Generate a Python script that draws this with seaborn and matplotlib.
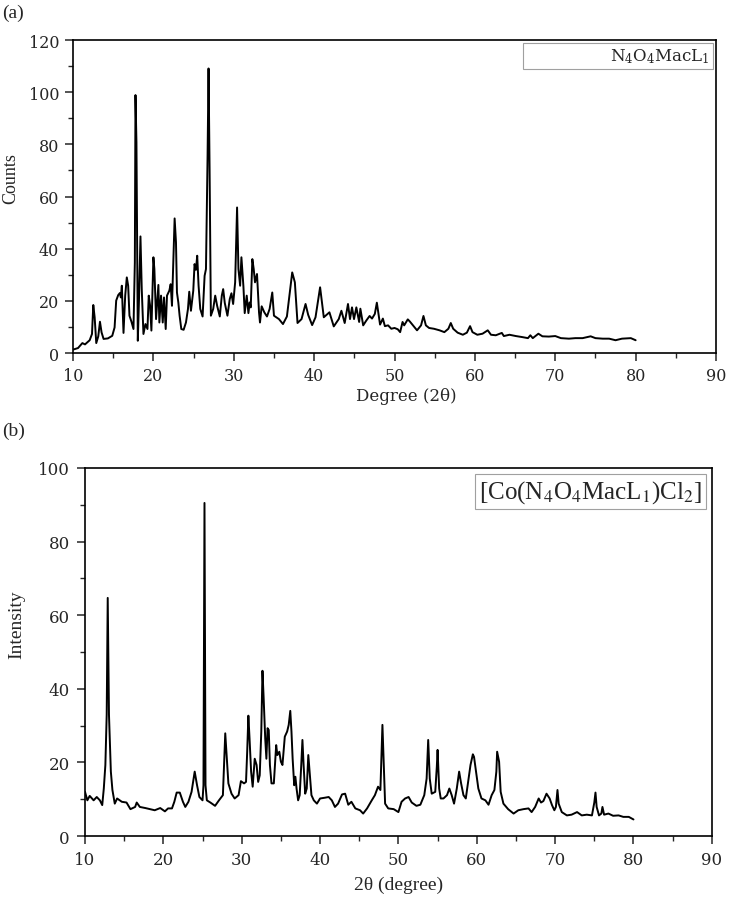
import matplotlib
matplotlib.use("Agg")
import matplotlib.pyplot as plt
import seaborn as sns
import pandas as pd
from matplotlib.ticker import MultipleLocator

# (a) N4O4MacL1 powder pattern
ligand_2theta = [
    10.0, 10.62, 11.16, 11.49, 12.07, 12.36, 12.52, 12.69, 12.89, 13.14, 13.35, 13.55, 13.80,
    14.34, 14.88, 15.17, 15.37, 15.62, 15.83, 15.95, 16.07, 16.28, 16.49, 16.69, 16.86, 17.02,
    17.27, 17.52, 17.69, 17.77, 17.89, 18.06, 18.22, 18.39, 18.55, 18.76, 19.01, 19.26, 19.42,
    19.59, 19.75, 20.0, 20.12, 20.33, 20.62, 20.74, 20.95, 21.16, 21.32, 21.53, 21.69, 21.98,
    22.15, 22.31, 22.48, 22.64, 22.81, 22.93, 23.10, 23.26, 23.47, 23.76, 24.05, 24.30, 24.46,
    24.67, 24.96, 25.12, 25.29, 25.45, 25.62, 25.83, 26.12, 26.37, 26.54, 26.74, 26.86, 26.99,
    27.15, 27.44, 27.69, 27.93, 28.26, 28.51, 28.68, 28.88, 29.21, 29.50, 29.71, 29.92, 30.17,
    30.41, 30.58, 30.79, 30.95, 31.20, 31.36, 31.61, 31.82, 31.98, 32.11, 32.31, 32.48, 32.64,
    32.89, 33.14, 33.26, 33.47, 33.80, 34.13, 34.46, 34.79, 35.00, 35.62, 36.12, 36.61, 37.02,
    37.27, 37.60, 37.93, 38.43, 38.93, 39.26, 39.75, 40.17, 40.74, 41.20, 41.90, 42.44, 43.06,
    43.39, 43.80, 44.21, 44.46, 44.71, 44.96, 45.25, 45.6, 45.75, 46.1, 46.5, 46.9, 47.2, 47.55,
    47.8, 48.0, 48.2, 48.55, 48.8, 49.2, 49.6, 50.0, 50.4, 50.7, 51.0, 51.2, 51.65, 51.9, 52.3,
    52.8, 53.3, 53.6, 53.9, 54.3, 54.9, 55.6, 56.2, 56.7, 57.0, 57.3, 57.85, 58.5, 59.0, 59.4,
    59.7, 60.3, 60.95, 61.6, 62.0, 62.6, 63.35, 63.6, 64.3, 65.1, 65.9, 66.6, 66.9, 67.2, 67.9,
    68.4, 69.2, 70.0, 70.7, 71.7, 72.5, 73.4, 74.4, 75.0, 75.9, 76.7, 77.5, 78.3, 79.4, 80.0,
]
ligand_counts = [
    1.3, 1.9, 3.8, 3.3, 4.9, 7.3, 18.4, 13.7, 3.8, 6.4, 12.0, 7.9, 5.4,
    5.6, 6.6, 9.8, 20.1, 22.2, 23.0, 21.3, 25.8, 7.7, 22.0, 29.0, 25.8, 14.3,
    12.0, 9.2, 34.7, 98.9, 80.7, 4.7, 22.0, 44.7, 24.5, 7.3, 11.1, 9.2, 22.0,
    18.1, 8.6, 36.7, 32.2, 13.0, 26.1, 11.7, 22.0, 11.7, 21.3, 9.2, 22.0, 23.9,
    26.4, 18.1, 34.7, 51.6, 42.4, 23.2, 19.4, 14.3, 9.2, 8.9, 11.7, 16.9, 23.5,
    16.2, 23.9, 34.1, 31.9, 37.3, 25.8, 16.9, 14.0, 29.6, 32.2, 75.6, 109.1, 70.5,
    14.3, 16.9, 22.0, 18.1, 14.0, 22.0, 24.5, 19.2, 14.3, 20.7, 22.9, 18.8, 27.1,
    55.8, 32.2, 25.8, 36.7, 25.5, 15.3, 22.0, 15.3, 19.4, 17.5, 36.0, 32.2, 27.1,
    30.3, 15.6, 11.7, 17.9, 15.6, 14.0, 16.9, 23.2, 14.3, 13.0, 11.1, 14.0, 24.5,
    30.9, 27.1, 11.5, 13.0, 18.8, 14.6, 10.7, 13.7, 25.2, 13.7, 15.6, 10.2, 13.0,
    16.2, 11.5, 18.8, 13.0, 17.5, 13.0, 17.5, 11.9, 17.0, 10.6, 12.5, 14.2, 13.2, 15.0,
    19.3, 15.0, 10.9, 13.2, 10.3, 10.6, 9.3, 9.6, 9.1, 8.0, 11.9, 10.6, 12.9, 12.1, 10.6,
    8.7, 10.6, 14.2, 10.6, 9.6, 9.3, 8.7, 8.0, 9.3, 11.5, 9.3, 7.8, 7.0, 7.8, 10.3,
    8.0, 7.0, 7.4, 8.7, 7.0, 6.8, 7.7, 6.5, 7.0, 6.5, 6.1, 5.7, 6.8, 5.7, 7.4,
    6.4, 6.3, 6.5, 5.7, 5.5, 5.7, 5.7, 6.4, 5.7, 5.5, 5.5, 4.9, 5.5, 5.7, 4.9,
]

# (b) [Co(N4O4MacL1)Cl2] complex
complex_2theta = [
    10.0, 10.3, 10.6, 11.1, 11.5, 11.9, 12.2, 12.4, 12.6, 12.77, 12.9, 13.06, 13.3, 13.5, 13.8,
    14.1, 14.7, 15.3, 15.8, 16.4, 16.6, 17.0, 17.7, 18.3, 18.9, 19.6, 20.2, 20.6, 21.1, 21.4,
    21.7, 22.1, 22.5, 22.8, 23.2, 23.6, 24.0, 24.3, 24.6, 25.0, 25.12, 25.25, 25.38, 25.55,
    26.0, 26.6, 27.1, 27.6, 27.75, 27.9, 28.1, 28.3, 28.7, 29.1, 29.6, 29.9, 30.3, 30.55,
    30.7, 30.85, 31.0, 31.2, 31.4, 31.66, 31.9, 32.1, 32.3, 32.5, 32.65, 32.8, 33.0, 33.15,
    33.3, 33.45, 33.6, 33.8, 34.1, 34.4, 34.55, 34.8, 35.0, 35.2, 35.5, 35.8, 36.0, 36.2,
    36.35, 36.5, 36.7, 36.85, 37.0, 37.2, 37.4, 37.6, 37.75, 37.9, 38.1, 38.3, 38.5, 38.7,
    38.9, 39.2, 39.6, 40.0, 40.6, 41.1, 41.5, 41.9, 42.3, 42.8, 43.2, 43.6, 44.0, 44.5,
    45.1, 45.5, 46.0, 46.6, 47.0, 47.4, 47.7, 47.96, 48.15, 48.3, 48.7, 49.4, 50.0, 50.4,
    50.85, 51.3, 51.7, 52.3, 52.8, 53.3, 53.6, 53.8, 54.0, 54.25, 54.7, 54.9, 55.0, 55.2,
    55.4, 55.75, 56.2, 56.5, 56.8, 57.1, 57.45, 57.75, 58.0, 58.3, 58.6, 58.9, 59.2, 59.5,
    59.65, 59.9, 60.2, 60.6, 61.1, 61.5, 61.9, 62.25, 62.5, 62.6, 62.85, 63.05, 63.4, 64.0,
    64.7, 65.3, 65.96, 66.6, 67.0, 67.45, 67.9, 68.2, 68.5, 68.9, 69.3, 69.6, 69.9, 70.1,
    70.3, 70.45, 70.85, 71.5, 72.1, 72.8, 73.4, 74.04, 74.7, 75.0, 75.15, 75.3, 75.6, 75.9,
    76.04, 76.25, 76.8, 77.4, 78.1, 78.7, 79.4, 80.0,
]
complex_intensity = [
    12.0, 9.7, 10.9, 9.7, 10.6, 9.7, 8.4, 12.9, 19.3, 33.0, 64.7, 33.0, 17.5, 12.5, 8.8,
    10.2, 9.3, 9.1, 7.3, 7.9, 9.1, 7.9, 7.6, 7.3, 7.0, 7.6, 6.7, 7.5, 7.5, 9.3,
    11.8, 11.8, 9.3, 7.9, 9.3, 12.0, 17.5, 13.8, 10.6, 9.7, 13.8, 90.5, 13.8, 9.7,
    9.1, 8.2, 9.7, 11.1, 19.3, 27.9, 21.0, 14.3, 11.5, 10.2, 11.1, 14.9, 14.3, 14.7,
    22.9, 32.7, 26.5, 17.5, 13.4, 21.0, 19.3, 14.7, 16.5, 28.4, 44.9, 37.5, 26.5, 21.0,
    29.3, 28.8, 19.3, 14.3, 14.3, 24.7, 22.0, 22.9, 20.2, 19.3, 27.0, 28.4, 30.2, 34.0,
    28.4, 21.0, 13.8, 16.1, 12.9, 9.7, 11.1, 19.3, 26.1, 19.3, 11.5, 12.9, 22.0, 16.5,
    11.1, 9.7, 8.8, 10.2, 10.4, 10.6, 9.7, 7.9, 8.8, 11.3, 11.5, 8.5, 9.3, 7.5,
    7.0, 6.1, 7.5, 9.7, 11.1, 13.4, 12.5, 30.2, 18.4, 8.8, 7.5, 7.3, 6.5, 9.3,
    10.2, 10.6, 9.1, 8.2, 8.5, 11.1, 15.6, 26.1, 15.6, 11.5, 12.0, 18.8, 23.4, 12.9,
    10.2, 10.2, 11.1, 12.9, 11.1, 8.8, 12.9, 17.5, 14.3, 11.1, 10.2, 14.7, 19.3, 22.2,
    21.5, 17.5, 12.9, 10.2, 9.7, 8.5, 11.1, 12.5, 17.5, 22.9, 20.2, 12.0, 8.8, 7.3,
    6.1, 7.0, 7.3, 7.5, 6.5, 7.9, 10.2, 9.1, 9.5, 11.5, 10.2, 8.4, 7.0, 7.9,
    12.5, 8.8, 6.5, 5.6, 5.8, 6.5, 5.6, 5.8, 5.6, 9.1, 11.8, 7.9, 5.6, 6.1,
    7.9, 5.8, 6.1, 5.5, 5.6, 5.2, 5.2, 4.5,
]

x_ticks = [10, 20, 30, 40, 50, 60, 70, 80, 90]

df_a = pd.DataFrame({"two_theta": ligand_2theta, "counts": ligand_counts})
df_b = pd.DataFrame({"two_theta": complex_2theta, "intensity": complex_intensity})

sns.set_style("ticks")
plt.rcParams["font.family"] = ["Liberation Serif", "DejaVu Serif"]
plt.rcParams["xtick.direction"] = "out"
plt.rcParams["ytick.direction"] = "out"

fig = plt.figure(figsize=(7.34, 9.04), dpi=100)
ax1 = fig.add_axes([0.0995, 0.6084, 0.876, 0.3462])
ax2 = fig.add_axes([0.1158, 0.0741, 0.854, 0.4071])

# ---- panel (a)
sns.lineplot(data=df_a, x="two_theta", y="counts", ax=ax1, color="black",
             linewidth=1.4, label=r"N$_4$O$_4$MacL$_1$")
ax1.set_xlim(10, 90)
ax1.set_ylim(0, 120)
ax1.set_xticks(x_ticks)
ax1.set_yticks(range(0, 121, 20))
ax1.xaxis.set_minor_locator(MultipleLocator(5))
ax1.yaxis.set_minor_locator(MultipleLocator(10))
ax1.set_xlabel("Degree (2θ)", family="DejaVu Serif", fontsize=12)
ax1.set_ylabel("Counts", fontsize=13)
ax1.xaxis.set_label_coords(0.518, -0.108)
ax1.yaxis.set_label_coords(-0.084, 0.56)
leg1 = ax1.legend(loc="upper right", frameon=True, fancybox=False, handlelength=4.5,
                  handletextpad=0.5, borderpad=0.2, borderaxespad=0.2,
                  prop={"family": "DejaVu Serif", "size": 12, "math_fontfamily": "dejavuserif"})
leg1.legend_handles[0].set_visible(False)
leg1.get_frame().set_edgecolor("#888888")
leg1.get_frame().set_linewidth(0.8)

# ---- panel (b)
sns.lineplot(data=df_b, x="two_theta", y="intensity", ax=ax2, color="black",
             linewidth=1.4, label=r"[Co(N$_4$O$_4$MacL$_1$)Cl$_2$]")
ax2.set_xlim(10, 90)
ax2.set_ylim(0, 100)
ax2.set_xticks(x_ticks)
ax2.set_yticks(range(0, 101, 20))
ax2.xaxis.set_minor_locator(MultipleLocator(5))
ax2.yaxis.set_minor_locator(MultipleLocator(10))
ax2.set_xlabel("2θ (degree)", fontsize=14)
ax2.set_ylabel("Intensity", fontsize=14)
ax2.xaxis.set_label_coords(0.5, -0.109)
ax2.yaxis.set_label_coords(-0.096, 0.576)
leg2 = ax2.legend(loc="upper right", frameon=True, fancybox=False, handlelength=0,
                  handletextpad=0, borderpad=0.15, borderaxespad=0.25,
                  prop={"family": "Liberation Serif", "size": 18, "math_fontfamily": "stix"})
leg2.legend_handles[0].set_visible(False)
leg2.get_frame().set_edgecolor("#888888")
leg2.get_frame().set_linewidth(0.8)

for ax, tsize, tpad in ((ax1, 11.5, 4), (ax2, 12, 5)):
    for side in ("top", "right", "left", "bottom"):
        ax.spines[side].set_visible(True)
        ax.spines[side].set_linewidth(1.2)
        ax.spines[side].set_color("black")
    ax.tick_params(which="major", length=6, width=1.1, pad=tpad)
    ax.tick_params(which="minor", length=3.5, width=1.0)
    for lab in ax.get_xticklabels() + ax.get_yticklabels():
        lab.set_fontfamily("DejaVu Serif")
        lab.set_fontsize(tsize)

fig.text(0.003, 0.995, "(a)", fontsize=14, va="top", ha="left")
fig.text(0.003, 0.532, "(b)", fontsize=14, va="top", ha="left")

fig.savefig("out.png", dpi=100)
